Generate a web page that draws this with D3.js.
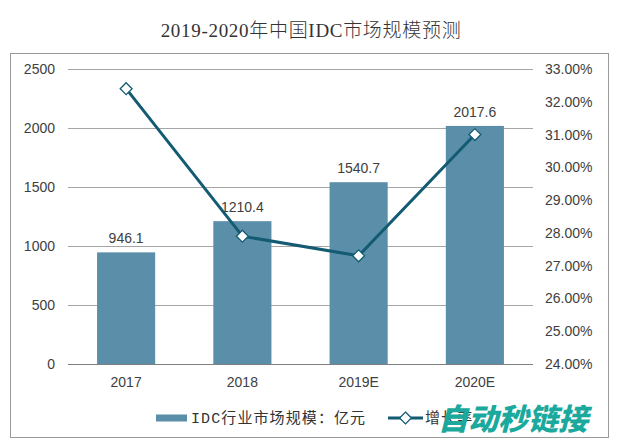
<!DOCTYPE html>
<html><head><meta charset="utf-8">
<script src="https://cdn.jsdelivr.net/npm/d3@7"></script>
<style>body{margin:0;background:#fff}svg{display:block}</style>
</head><body>
<svg id="c" width="619" height="446"></svg>
<script>
const categories = ["2017", "2018", "2019E", "2020E"];
const marketSize = [946.1, 1210.4, 1540.7, 2017.6];
const growthRate = [32.4, 27.9, 27.3, 31.0];
const leftTicks = [0, 500, 1000, 1500, 2000, 2500];
const rightTicks = [24, 25, 26, 27, 28, 29, 30, 31, 32, 33];
const titleText = "2019-2020年中国IDC市场规模预测";
const legendBar = "IDC行业市场规模：亿元";
const legendLine = "增长率";
const watermark = "自动秒链接";

const svg = d3.select("#c");
const m = {l: 68, r: 533, t: 69, b: 364};
const barColor = "#5b8fa9", lineColor = "#135b73", gridColor = "#a6a6a6";
const numFont = "'Liberation Sans', Arial, sans-serif";
const cjkFont = "'Liberation Mono', 'Noto Sans CJK SC', monospace";
const titleFont = "'Liberation Serif', 'Noto Sans CJK SC', serif";

// frame
svg.append("rect").attr("x", 10.5).attr("y", 53.5).attr("width", 598).attr("height", 384)
  .attr("fill", "none").attr("stroke", "#9a9a9a");

svg.append("text").attr("x", 311).attr("y", 37).attr("text-anchor", "middle")
  .attr("font-family", titleFont).attr("font-size", 19).attr("font-weight", 300)
  .attr("letter-spacing", 0.7).attr("fill", "#333").text(titleText);

const x = d3.scaleBand().domain(categories).range([m.l, m.r]).paddingInner(0.5).paddingOuter(0.25);
const y = d3.scaleLinear().domain([0, 2500]).range([m.b, m.t]);
const y2 = d3.scaleLinear().domain([24, 33]).range([m.b, m.t]);

// gridlines
const yAxis = d3.axisLeft(y).tickValues(leftTicks).tickSize(-(m.r - m.l)).tickPadding(13)
  .tickFormat(d3.format("d"));
const ga = svg.append("g").attr("transform", `translate(${m.l},0)`).call(yAxis);
ga.select(".domain").remove();
ga.selectAll(".tick line").attr("stroke", gridColor).attr("shape-rendering", "crispEdges");
ga.selectAll(".tick text").attr("font-family", numFont).attr("font-size", 14).attr("fill", "#404040");

const yAxis2 = d3.axisRight(y2).tickValues(rightTicks).tickSize(0).tickPadding(12)
  .tickFormat(d => d.toFixed(2) + "%");
const gr = svg.append("g").attr("transform", `translate(${m.r},0)`).call(yAxis2);
gr.select(".domain").remove();
gr.selectAll(".tick text").attr("font-family", numFont).attr("font-size", 14).attr("fill", "#404040");

// bars
svg.append("g").selectAll("rect").data(categories).join("rect")
  .attr("x", d => x(d)).attr("width", x.bandwidth())
  .attr("y", (d, i) => y(marketSize[i])).attr("height", (d, i) => y(0) - y(marketSize[i]))
  .attr("fill", barColor);

// baseline
svg.append("line").attr("x1", m.l).attr("x2", m.r).attr("y1", y(0) + 0.5).attr("y2", y(0) + 0.5)
  .attr("stroke", "#7f7f7f").attr("stroke-width", 1.2);

// x labels
svg.append("g").selectAll("text").data(categories).join("text")
  .attr("x", d => x(d) + x.bandwidth() / 2).attr("y", 387).attr("text-anchor", "middle")
  .attr("font-family", numFont).attr("font-size", 14).attr("fill", "#404040").text(d => d);

// value labels
svg.append("g").selectAll("text").data(categories).join("text")
  .attr("x", d => x(d) + x.bandwidth() / 2).attr("y", (d, i) => y(marketSize[i]) - 9)
  .attr("text-anchor", "middle").attr("font-family", numFont).attr("font-size", 14).attr("fill", "#404040")
  .text((d, i) => marketSize[i]);

// line
const line = d3.line().x((d, i) => x(categories[i]) + x.bandwidth() / 2).y(d => y2(d));
svg.append("path").datum(growthRate).attr("d", line).attr("fill", "none")
  .attr("stroke", lineColor).attr("stroke-width", 3).attr("stroke-linejoin", "round");
const diamond = d3.symbol().type(d3.symbolDiamond2).size(90);
svg.append("g").selectAll("path").data(growthRate).join("path")
  .attr("d", diamond)
  .attr("transform", (d, i) => `translate(${x(categories[i]) + x.bandwidth() / 2},${y2(d)})`)
  .attr("fill", "#fff").attr("stroke", lineColor).attr("stroke-width", 1.3);

// legend
const ly = 418;
svg.append("rect").attr("x", 156).attr("y", ly - 3.5).attr("width", 31).attr("height", 7).attr("fill", barColor);
svg.append("text").attr("x", 191).attr("y", ly + 5).attr("font-family", cjkFont).attr("font-size", 15)
  .attr("letter-spacing", 1.1).attr("fill", "#333").text(legendBar);
svg.append("line").attr("x1", 388).attr("x2", 423).attr("y1", ly).attr("y2", ly)
  .attr("stroke", lineColor).attr("stroke-width", 3);
svg.append("path").attr("d", diamond).attr("transform", `translate(405.5,${ly})`)
  .attr("fill", "#fff").attr("stroke", lineColor).attr("stroke-width", 1.3);
svg.append("text").attr("x", 425).attr("y", ly + 5).attr("font-family", cjkFont).attr("font-size", 15)
  .attr("letter-spacing", 1.1).attr("fill", "#333").text(legendLine);

// watermark
svg.append("text").attr("x", 438).attr("y", ly + 12).attr("font-family", "'Noto Sans CJK SC', sans-serif")
  .attr("font-weight", 900).attr("font-style", "italic").attr("font-size", 30)
  .attr("fill", "#1aa99c").text(watermark);
</script>
</body></html>
